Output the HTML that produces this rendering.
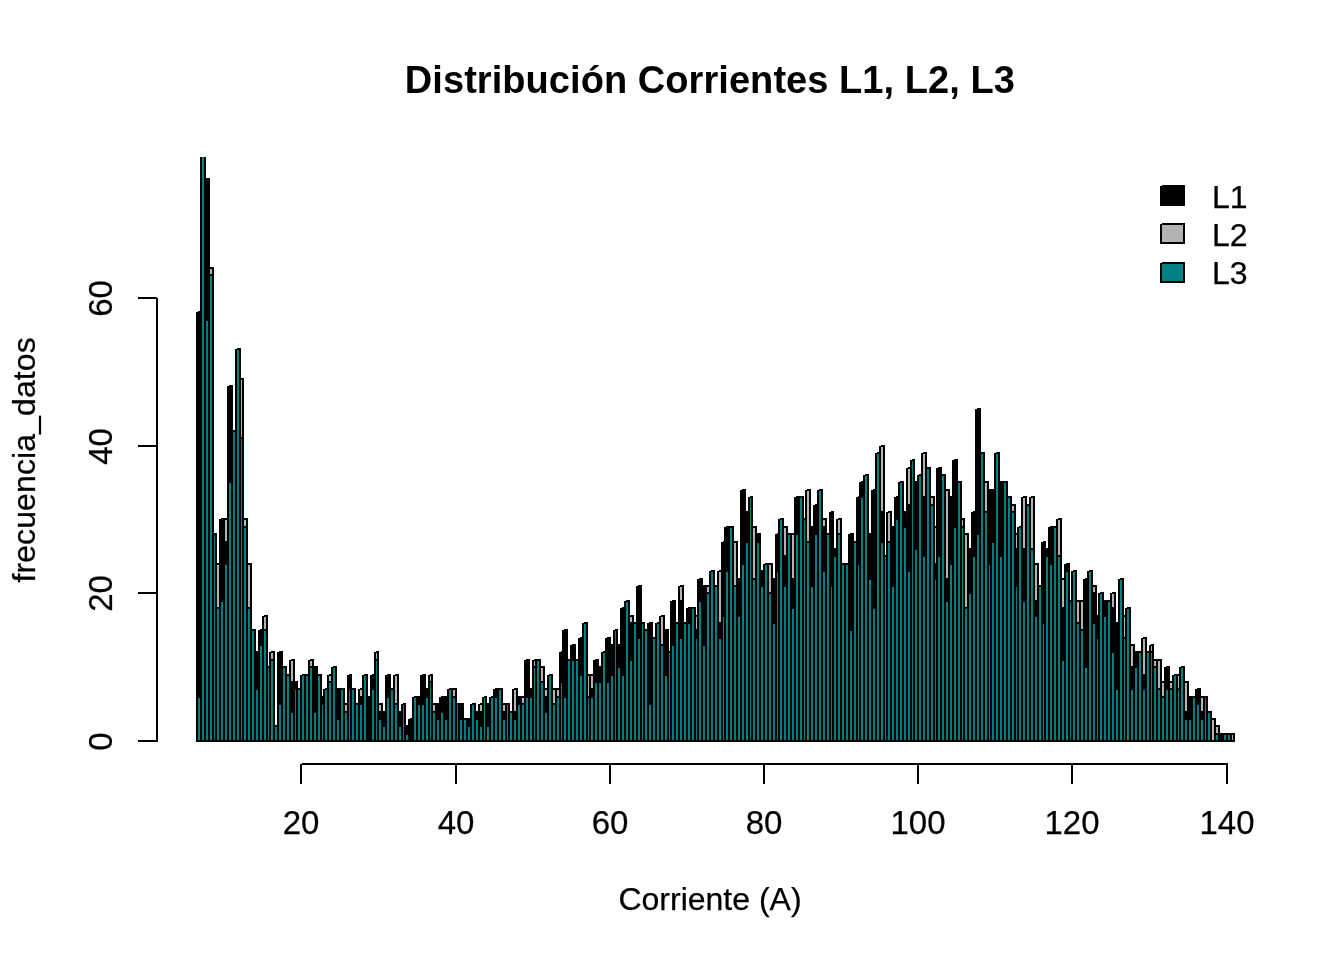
<!DOCTYPE html>
<html lang="es"><head><meta charset="utf-8"><title>Distribución Corrientes L1, L2, L3</title>
<style>html,body{margin:0;padding:0;background:#fff}body{width:1344px;height:960px;overflow:hidden}</style></head>
<body>
<svg width="1344" height="960" viewBox="0 0 1344 960" style="display:block">
<rect width="1344" height="960" fill="#fff"/>
<defs><clipPath id="pc"><rect x="157" y="157" width="1107" height="608"/></clipPath></defs>
<g shape-rendering="crispEdges">
<g clip-path="url(#pc)">
<rect x="196" y="740" width="1039" height="2" fill="#000"/>
<path fill="#b3b3b3" d="M209 268H213V741H209ZM216 564H220V741H216ZM224 519H228V741H224ZM240 379H243V741H240ZM243 519H247V741H243ZM247 564H251V741H247ZM263 616H267V741H263ZM270 652H274V741H270ZM290 660H294V741H290ZM309 660H313V741H309ZM328 675H332V741H328ZM344 704H348V741H344ZM359 689H363V741H359ZM375 652H378V741H375ZM378 704H382V741H378ZM394 675H398V741H394ZM429 675H432V741H429ZM432 704H436V741H432ZM452 689H456V741H452ZM479 704H483V741H479ZM502 704H506V741H502ZM513 689H517V741H513ZM521 697H525V741H521ZM533 660H536V741H533ZM540 667H544V741H540ZM544 689H548V741H544ZM552 689H556V741H552ZM556 689H560V741H556ZM587 675H590V741H587ZM590 675H594V741H590ZM629 616H633V741H629ZM660 616H664V741H660ZM679 586H683V741H679ZM695 616H698V741H695ZM706 586H710V741H706ZM718 571H722V741H718ZM733 542H737V741H733ZM752 527H756V741H752ZM768 564H772V741H768ZM783 527H787V741H783ZM791 534H795V741H791ZM806 490H810V741H806ZM822 519H826V741H822ZM837 519H841V741H837ZM880 446H884V741H880ZM887 512H891V741H887ZM907 468H911V741H907ZM922 453H926V741H922ZM930 497H934V741H930ZM934 527H937V741H934ZM945 490H949V741H945ZM961 519H964V741H961ZM964 534H968V741H964ZM984 482H988V741H984ZM1011 505H1015V741H1011ZM1015 534H1018V741H1015ZM1022 497H1026V741H1022ZM1030 497H1034V741H1030ZM1034 564H1038V741H1034ZM1057 519H1061V741H1057ZM1061 579H1065V741H1061ZM1076 601H1080V741H1076ZM1080 601H1084V741H1080ZM1092 586H1096V741H1092ZM1111 593H1115V741H1111ZM1123 616H1126V741H1123ZM1130 645H1134V741H1130ZM1142 638H1146V741H1142ZM1150 645H1153V741H1150ZM1153 660H1157V741H1153ZM1157 660H1161V741H1157ZM1161 682H1165V741H1161ZM1169 682H1173V741H1169ZM1177 675H1180V741H1177ZM1184 682H1188V741H1184ZM1200 697H1204V741H1200ZM1211 719H1215V741H1211ZM1215 726H1219V741H1215ZM1231 734H1234V741H1231Z"/>
<path fill="#000" d="M210 267H214V742H208V268H210ZM210 269V740H212V269ZM217 563H221V742H215V564H217ZM217 565V740H219V565ZM225 518H229V742H223V519H225ZM225 520V740H227V520ZM241 378H244V742H239V379H241ZM241 380V740H242V380ZM244 518H248V742H242V519H244ZM244 520V740H246V520ZM248 563H252V742H246V564H248ZM248 565V740H250V565ZM264 615H268V742H262V616H264ZM264 617V740H266V617ZM271 651H275V742H269V652H271ZM271 653V740H273V653ZM291 659H295V742H289V660H291ZM291 661V740H293V661ZM310 659H314V742H308V660H310ZM310 661V740H312V661ZM329 674H333V742H327V675H329ZM329 676V740H331V676ZM345 703H349V742H343V704H345ZM345 705V740H347V705ZM360 688H364V742H358V689H360ZM360 690V740H362V690ZM376 651H379V742H374V652H376ZM376 653V740H377V653ZM379 703H383V742H377V704H379ZM379 705V740H381V705ZM395 674H399V742H393V675H395ZM395 676V740H397V676ZM430 674H433V742H428V675H430ZM430 676V740H431V676ZM433 703H437V742H431V704H433ZM433 705V740H435V705ZM453 688H457V742H451V689H453ZM453 690V740H455V690ZM480 703H484V742H478V704H480ZM480 705V740H482V705ZM503 703H507V742H501V704H503ZM503 705V740H505V705ZM514 688H518V742H512V689H514ZM514 690V740H516V690ZM522 696H526V742H520V697H522ZM522 698V740H524V698ZM534 659H537V742H532V660H534ZM534 661V740H535V661ZM541 666H545V742H539V667H541ZM541 668V740H543V668ZM545 688H549V742H543V689H545ZM545 690V740H547V690ZM553 688H557V742H551V689H553ZM553 690V740H555V690ZM557 688H561V742H555V689H557ZM557 690V740H559V690ZM588 674H591V742H586V675H588ZM588 676V740H589V676ZM591 674H595V742H589V675H591ZM591 676V740H593V676ZM630 615H634V742H628V616H630ZM630 617V740H632V617ZM661 615H665V742H659V616H661ZM661 617V740H663V617ZM680 585H684V742H678V586H680ZM680 587V740H682V587ZM696 615H699V742H694V616H696ZM696 617V740H697V617ZM707 585H711V742H705V586H707ZM707 587V740H709V587ZM719 570H723V742H717V571H719ZM719 572V740H721V572ZM734 541H738V742H732V542H734ZM734 543V740H736V543ZM753 526H757V742H751V527H753ZM753 528V740H755V528ZM769 563H773V742H767V564H769ZM769 565V740H771V565ZM784 526H788V742H782V527H784ZM784 528V740H786V528ZM792 533H796V742H790V534H792ZM792 535V740H794V535ZM807 489H811V742H805V490H807ZM807 491V740H809V491ZM823 518H827V742H821V519H823ZM823 520V740H825V520ZM838 518H842V742H836V519H838ZM838 520V740H840V520ZM881 445H885V742H879V446H881ZM881 447V740H883V447ZM888 511H892V742H886V512H888ZM888 513V740H890V513ZM908 467H912V742H906V468H908ZM908 469V740H910V469ZM923 452H927V742H921V453H923ZM923 454V740H925V454ZM931 496H935V742H929V497H931ZM931 498V740H933V498ZM935 526H938V742H933V527H935ZM935 528V740H936V528ZM946 489H950V742H944V490H946ZM946 491V740H948V491ZM962 518H965V742H960V519H962ZM962 520V740H963V520ZM965 533H969V742H963V534H965ZM965 535V740H967V535ZM985 481H989V742H983V482H985ZM985 483V740H987V483ZM1012 504H1016V742H1010V505H1012ZM1012 506V740H1014V506ZM1016 533H1019V742H1014V534H1016ZM1016 535V740H1017V535ZM1023 496H1027V742H1021V497H1023ZM1023 498V740H1025V498ZM1031 496H1035V742H1029V497H1031ZM1031 498V740H1033V498ZM1035 563H1039V742H1033V564H1035ZM1035 565V740H1037V565ZM1058 518H1062V742H1056V519H1058ZM1058 520V740H1060V520ZM1062 578H1066V742H1060V579H1062ZM1062 580V740H1064V580ZM1077 600H1081V742H1075V601H1077ZM1077 602V740H1079V602ZM1081 600H1085V742H1079V601H1081ZM1081 602V740H1083V602ZM1093 585H1097V742H1091V586H1093ZM1093 587V740H1095V587ZM1112 592H1116V742H1110V593H1112ZM1112 594V740H1114V594ZM1124 615H1127V742H1122V616H1124ZM1124 617V740H1125V617ZM1131 644H1135V742H1129V645H1131ZM1131 646V740H1133V646ZM1143 637H1147V742H1141V638H1143ZM1143 639V740H1145V639ZM1151 644H1154V742H1149V645H1151ZM1151 646V740H1152V646ZM1154 659H1158V742H1152V660H1154ZM1154 661V740H1156V661ZM1158 659H1162V742H1156V660H1158ZM1158 661V740H1160V661ZM1162 681H1166V742H1160V682H1162ZM1162 683V740H1164V683ZM1170 681H1174V742H1168V682H1170ZM1170 683V740H1172V683ZM1178 674H1181V742H1176V675H1178ZM1178 676V740H1179V676ZM1185 681H1189V742H1183V682H1185ZM1185 683V740H1187V683ZM1201 696H1205V742H1199V697H1201ZM1201 698V740H1203V698ZM1212 718H1216V742H1210V719H1212ZM1212 720V740H1214V720ZM1216 725H1220V742H1214V726H1216ZM1216 727V740H1218V727ZM1232 733H1235V742H1230V734H1232ZM1232 735V740H1233V735Z"/>
<path fill="#000" d="M197 312H201V741H197ZM205 179H209V741H205ZM220 519H224V741H220ZM224 542H228V741H224ZM228 386H232V741H228ZM255 652H259V741H255ZM259 630H263V741H259ZM278 652H282V741H278ZM290 682H294V741H290ZM294 682H297V741H294ZM313 667H317V741H313ZM321 697H324V741H321ZM336 689H340V741H336ZM348 675H351V741H348ZM359 697H363V741H359ZM367 697H371V741H367ZM371 675H375V741H371ZM378 712H382V741H378ZM382 712H386V741H382ZM386 675H390V741H386ZM398 712H402V741H398ZM405 726H409V741H405ZM409 719H413V741H409ZM417 697H421V741H417ZM421 675H425V741H421ZM425 689H429V741H425ZM436 704H440V741H436ZM440 697H444V741H440ZM444 697H448V741H444ZM459 704H463V741H459ZM467 719H471V741H467ZM475 712H479V741H475ZM479 712H483V741H479ZM486 704H490V741H486ZM494 689H498V741H494ZM502 712H506V741H502ZM513 712H517V741H513ZM517 697H521V741H517ZM525 660H529V741H525ZM529 689H533V741H529ZM544 697H548V741H544ZM560 652H563V741H560ZM563 630H567V741H563ZM571 645H575V741H571ZM579 638H583V741H579ZM590 689H594V741H590ZM594 660H598V741H594ZM598 667H602V741H598ZM606 638H610V741H606ZM610 645H614V741H610ZM617 645H621V741H617ZM621 608H625V741H621ZM629 623H633V741H629ZM637 586H641V741H637ZM648 623H652V741H648ZM664 630H668V741H664ZM671 601H675V741H671ZM679 601H683V741H679ZM687 608H691V741H687ZM695 630H698V741H695ZM698 579H702V741H698ZM702 586H706V741H702ZM718 623H722V741H718ZM722 542H725V741H722ZM725 527H729V741H725ZM737 579H741V741H737ZM741 490H745V741H741ZM745 512H749V741H745ZM756 534H760V741H756ZM760 571H764V741H760ZM772 579H776V741H772ZM776 534H779V741H776ZM783 556H787V741H783ZM791 579H795V741H791ZM795 497H799V741H795ZM810 527H814V741H810ZM814 505H818V741H814ZM822 527H826V741H822ZM830 512H833V741H830ZM833 549H837V741H833ZM849 534H853V741H849ZM857 497H860V741H857ZM860 482H864V741H860ZM868 534H872V741H868ZM872 490H876V741H872ZM880 512H884V741H880ZM891 527H895V741H891ZM895 497H899V741H895ZM903 512H907V741H903ZM907 505H911V741H907ZM914 482H918V741H914ZM922 497H926V741H922ZM934 564H937V741H934ZM937 468H941V741H937ZM945 579H949V741H945ZM949 497H953V741H949ZM953 460H957V741H953ZM968 549H972V741H968ZM972 512H976V741H972ZM976 409H980V741H976ZM988 490H991V741H988ZM991 490H995V741H991ZM999 482H1003V741H999ZM1015 549H1018V741H1015ZM1022 549H1026V741H1022ZM1034 601H1038V741H1034ZM1042 542H1045V741H1042ZM1045 549H1049V741H1045ZM1049 527H1053V741H1049ZM1061 608H1065V741H1061ZM1065 564H1069V741H1065ZM1084 579H1088V741H1084ZM1092 593H1096V741H1092ZM1096 616H1099V741H1096ZM1103 601H1107V741H1103ZM1111 608H1115V741H1111ZM1115 623H1119V741H1115ZM1130 667H1134V741H1130ZM1134 652H1138V741H1134ZM1142 675H1146V741H1142ZM1165 667H1169V741H1165ZM1184 712H1188V741H1184ZM1188 697H1192V741H1188ZM1196 689H1200V741H1196ZM1200 712H1204V741H1200ZM1219 734H1223V741H1219Z"/>
<path fill="#000" d="M198 311H202V742H196V312H198ZM198 313V740H200V313ZM206 178H210V742H204V179H206ZM206 180V740H208V180ZM221 518H225V742H219V519H221ZM221 520V740H223V520ZM225 541H229V742H223V542H225ZM225 543V740H227V543ZM229 385H233V742H227V386H229ZM229 387V740H231V387ZM256 651H260V742H254V652H256ZM256 653V740H258V653ZM260 629H264V742H258V630H260ZM260 631V740H262V631ZM279 651H283V742H277V652H279ZM279 653V740H281V653ZM291 681H295V742H289V682H291ZM291 683V740H293V683ZM295 681H298V742H293V682H295ZM295 683V740H296V683ZM314 666H318V742H312V667H314ZM314 668V740H316V668ZM322 696H325V742H320V697H322ZM322 698V740H323V698ZM337 688H341V742H335V689H337ZM337 690V740H339V690ZM349 674H352V742H347V675H349ZM349 676V740H350V676ZM360 696H364V742H358V697H360ZM360 698V740H362V698ZM368 696H372V742H366V697H368ZM368 698V740H370V698ZM372 674H376V742H370V675H372ZM372 676V740H374V676ZM379 711H383V742H377V712H379ZM379 713V740H381V713ZM383 711H387V742H381V712H383ZM383 713V740H385V713ZM387 674H391V742H385V675H387ZM387 676V740H389V676ZM399 711H403V742H397V712H399ZM399 713V740H401V713ZM406 725H410V742H404V726H406ZM406 727V740H408V727ZM410 718H414V742H408V719H410ZM410 720V740H412V720ZM418 696H422V742H416V697H418ZM418 698V740H420V698ZM422 674H426V742H420V675H422ZM422 676V740H424V676ZM426 688H430V742H424V689H426ZM426 690V740H428V690ZM437 703H441V742H435V704H437ZM437 705V740H439V705ZM441 696H445V742H439V697H441ZM441 698V740H443V698ZM445 696H449V742H443V697H445ZM445 698V740H447V698ZM460 703H464V742H458V704H460ZM460 705V740H462V705ZM468 718H472V742H466V719H468ZM468 720V740H470V720ZM476 711H480V742H474V712H476ZM476 713V740H478V713ZM480 711H484V742H478V712H480ZM480 713V740H482V713ZM487 703H491V742H485V704H487ZM487 705V740H489V705ZM495 688H499V742H493V689H495ZM495 690V740H497V690ZM503 711H507V742H501V712H503ZM503 713V740H505V713ZM514 711H518V742H512V712H514ZM514 713V740H516V713ZM518 696H522V742H516V697H518ZM518 698V740H520V698ZM526 659H530V742H524V660H526ZM526 661V740H528V661ZM530 688H534V742H528V689H530ZM530 690V740H532V690ZM545 696H549V742H543V697H545ZM545 698V740H547V698ZM561 651H564V742H559V652H561ZM561 653V740H562V653ZM564 629H568V742H562V630H564ZM564 631V740H566V631ZM572 644H576V742H570V645H572ZM572 646V740H574V646ZM580 637H584V742H578V638H580ZM580 639V740H582V639ZM591 688H595V742H589V689H591ZM591 690V740H593V690ZM595 659H599V742H593V660H595ZM595 661V740H597V661ZM599 666H603V742H597V667H599ZM599 668V740H601V668ZM607 637H611V742H605V638H607ZM607 639V740H609V639ZM611 644H615V742H609V645H611ZM611 646V740H613V646ZM618 644H622V742H616V645H618ZM618 646V740H620V646ZM622 607H626V742H620V608H622ZM622 609V740H624V609ZM630 622H634V742H628V623H630ZM630 624V740H632V624ZM638 585H642V742H636V586H638ZM638 587V740H640V587ZM649 622H653V742H647V623H649ZM649 624V740H651V624ZM665 629H669V742H663V630H665ZM665 631V740H667V631ZM672 600H676V742H670V601H672ZM672 602V740H674V602ZM680 600H684V742H678V601H680ZM680 602V740H682V602ZM688 607H692V742H686V608H688ZM688 609V740H690V609ZM696 629H699V742H694V630H696ZM696 631V740H697V631ZM699 578H703V742H697V579H699ZM699 580V740H701V580ZM703 585H707V742H701V586H703ZM703 587V740H705V587ZM719 622H723V742H717V623H719ZM719 624V740H721V624ZM723 541H726V742H721V542H723ZM723 543V740H724V543ZM726 526H730V742H724V527H726ZM726 528V740H728V528ZM738 578H742V742H736V579H738ZM738 580V740H740V580ZM742 489H746V742H740V490H742ZM742 491V740H744V491ZM746 511H750V742H744V512H746ZM746 513V740H748V513ZM757 533H761V742H755V534H757ZM757 535V740H759V535ZM761 570H765V742H759V571H761ZM761 572V740H763V572ZM773 578H777V742H771V579H773ZM773 580V740H775V580ZM777 533H780V742H775V534H777ZM777 535V740H778V535ZM784 555H788V742H782V556H784ZM784 557V740H786V557ZM792 578H796V742H790V579H792ZM792 580V740H794V580ZM796 496H800V742H794V497H796ZM796 498V740H798V498ZM811 526H815V742H809V527H811ZM811 528V740H813V528ZM815 504H819V742H813V505H815ZM815 506V740H817V506ZM823 526H827V742H821V527H823ZM823 528V740H825V528ZM831 511H834V742H829V512H831ZM831 513V740H832V513ZM834 548H838V742H832V549H834ZM834 550V740H836V550ZM850 533H854V742H848V534H850ZM850 535V740H852V535ZM858 496H861V742H856V497H858ZM858 498V740H859V498ZM861 481H865V742H859V482H861ZM861 483V740H863V483ZM869 533H873V742H867V534H869ZM869 535V740H871V535ZM873 489H877V742H871V490H873ZM873 491V740H875V491ZM881 511H885V742H879V512H881ZM881 513V740H883V513ZM892 526H896V742H890V527H892ZM892 528V740H894V528ZM896 496H900V742H894V497H896ZM896 498V740H898V498ZM904 511H908V742H902V512H904ZM904 513V740H906V513ZM908 504H912V742H906V505H908ZM908 506V740H910V506ZM915 481H919V742H913V482H915ZM915 483V740H917V483ZM923 496H927V742H921V497H923ZM923 498V740H925V498ZM935 563H938V742H933V564H935ZM935 565V740H936V565ZM938 467H942V742H936V468H938ZM938 469V740H940V469ZM946 578H950V742H944V579H946ZM946 580V740H948V580ZM950 496H954V742H948V497H950ZM950 498V740H952V498ZM954 459H958V742H952V460H954ZM954 461V740H956V461ZM969 548H973V742H967V549H969ZM969 550V740H971V550ZM973 511H977V742H971V512H973ZM973 513V740H975V513ZM977 408H981V742H975V409H977ZM977 410V740H979V410ZM989 489H992V742H987V490H989ZM989 491V740H990V491ZM992 489H996V742H990V490H992ZM992 491V740H994V491ZM1000 481H1004V742H998V482H1000ZM1000 483V740H1002V483ZM1016 548H1019V742H1014V549H1016ZM1016 550V740H1017V550ZM1023 548H1027V742H1021V549H1023ZM1023 550V740H1025V550ZM1035 600H1039V742H1033V601H1035ZM1035 602V740H1037V602ZM1043 541H1046V742H1041V542H1043ZM1043 543V740H1044V543ZM1046 548H1050V742H1044V549H1046ZM1046 550V740H1048V550ZM1050 526H1054V742H1048V527H1050ZM1050 528V740H1052V528ZM1062 607H1066V742H1060V608H1062ZM1062 609V740H1064V609ZM1066 563H1070V742H1064V564H1066ZM1066 565V740H1068V565ZM1085 578H1089V742H1083V579H1085ZM1085 580V740H1087V580ZM1093 592H1097V742H1091V593H1093ZM1093 594V740H1095V594ZM1097 615H1100V742H1095V616H1097ZM1097 617V740H1098V617ZM1104 600H1108V742H1102V601H1104ZM1104 602V740H1106V602ZM1112 607H1116V742H1110V608H1112ZM1112 609V740H1114V609ZM1116 622H1120V742H1114V623H1116ZM1116 624V740H1118V624ZM1131 666H1135V742H1129V667H1131ZM1131 668V740H1133V668ZM1135 651H1139V742H1133V652H1135ZM1135 653V740H1137V653ZM1143 674H1147V742H1141V675H1143ZM1143 676V740H1145V676ZM1166 666H1170V742H1164V667H1166ZM1166 668V740H1168V668ZM1185 711H1189V742H1183V712H1185ZM1185 713V740H1187V713ZM1189 696H1193V742H1187V697H1189ZM1189 698V740H1191V698ZM1197 688H1201V742H1195V689H1197ZM1197 690V740H1199V690ZM1201 711H1205V742H1199V712H1201ZM1201 713V740H1203V713ZM1220 733H1224V742H1218V734H1220ZM1220 735V740H1222V735Z"/>
<path fill="#008080" d="M197 697H201V741H197ZM201 113H205V741H201ZM205 320H209V741H205ZM209 275H213V741H209ZM213 534H216V741H213ZM216 608H220V741H216ZM220 601H224V741H220ZM224 564H228V741H224ZM228 482H232V741H228ZM232 431H236V741H232ZM236 349H240V741H236ZM240 438H243V741H240ZM243 527H247V741H243ZM247 608H251V741H247ZM251 630H255V741H251ZM255 689H259V741H255ZM259 645H263V741H259ZM263 630H267V741H263ZM267 667H270V741H267ZM270 660H274V741H270ZM274 726H278V741H274ZM278 704H282V741H278ZM282 667H286V741H282ZM286 675H290V741H286ZM290 712H294V741H290ZM294 689H297V741H294ZM297 689H301V741H297ZM301 675H305V741H301ZM305 675H309V741H305ZM309 667H313V741H309ZM313 712H317V741H313ZM317 675H321V741H317ZM321 704H324V741H321ZM324 689H328V741H324ZM328 682H332V741H328ZM332 667H336V741H332ZM336 719H340V741H336ZM340 689H344V741H340ZM344 712H348V741H344ZM348 689H351V741H348ZM351 689H355V741H351ZM355 704H359V741H355ZM359 704H363V741H359ZM363 675H367V741H363ZM371 689H375V741H371ZM375 660H378V741H375ZM378 719H382V741H378ZM382 726H386V741H382ZM386 697H390V741H386ZM390 689H394V741H390ZM394 704H398V741H394ZM398 726H402V741H398ZM402 704H405V741H402ZM405 734H409V741H405ZM413 697H417V741H413ZM417 704H421V741H417ZM421 704H425V741H421ZM425 697H429V741H425ZM429 682H432V741H429ZM432 712H436V741H432ZM436 719H440V741H436ZM440 712H444V741H440ZM444 719H448V741H444ZM448 689H452V741H448ZM452 697H456V741H452ZM456 704H459V741H456ZM459 719H463V741H459ZM463 719H467V741H463ZM467 726H471V741H467ZM471 704H475V741H471ZM475 719H479V741H475ZM479 726H483V741H479ZM483 697H486V741H483ZM486 726H490V741H486ZM490 697H494V741H490ZM494 697H498V741H494ZM498 689H502V741H498ZM502 719H506V741H502ZM506 704H509V741H506ZM509 712H513V741H509ZM513 719H517V741H513ZM517 704H521V741H517ZM521 704H525V741H521ZM525 697H529V741H525ZM529 697H533V741H529ZM533 667H536V741H533ZM536 660H540V741H536ZM540 682H544V741H540ZM544 712H548V741H544ZM548 675H552V741H548ZM552 704H556V741H552ZM556 697H560V741H556ZM560 682H563V741H560ZM563 697H567V741H563ZM567 660H571V741H567ZM571 660H575V741H571ZM575 660H579V741H575ZM579 675H583V741H579ZM583 623H587V741H583ZM587 697H590V741H587ZM590 697H594V741H590ZM594 682H598V741H594ZM598 682H602V741H598ZM602 652H606V741H602ZM606 682H610V741H606ZM610 675H614V741H610ZM614 630H617V741H614ZM617 667H621V741H617ZM621 675H625V741H621ZM625 601H629V741H625ZM629 660H633V741H629ZM633 623H637V741H633ZM637 638H641V741H637ZM641 623H644V741H641ZM644 630H648V741H644ZM648 704H652V741H648ZM652 638H656V741H652ZM656 623H660V741H656ZM660 645H664V741H660ZM664 675H668V741H664ZM668 652H671V741H668ZM671 645H675V741H671ZM675 623H679V741H675ZM679 638H683V741H679ZM683 623H687V741H683ZM687 623H691V741H687ZM691 608H695V741H691ZM695 638H698V741H695ZM698 601H702V741H698ZM702 645H706V741H702ZM706 593H710V741H706ZM710 571H714V741H710ZM714 586H718V741H714ZM718 638H722V741H718ZM722 616H725V741H722ZM725 571H729V741H725ZM729 527H733V741H729ZM733 586H737V741H733ZM737 616H741V741H737ZM741 564H745V741H741ZM745 542H749V741H745ZM749 497H752V741H749ZM752 579H756V741H752ZM756 542H760V741H756ZM760 586H764V741H760ZM764 564H768V741H764ZM768 593H772V741H768ZM772 623H776V741H772ZM776 571H779V741H776ZM779 519H783V741H779ZM783 586H787V741H783ZM787 534H791V741H787ZM791 608H795V741H791ZM795 534H799V741H795ZM799 497H803V741H799ZM803 519H806V741H803ZM806 542H810V741H806ZM810 586H814V741H810ZM814 534H818V741H814ZM818 490H822V741H818ZM822 571H826V741H822ZM826 534H830V741H826ZM830 586H833V741H830ZM833 556H837V741H833ZM837 534H841V741H837ZM841 564H845V741H841ZM845 564H849V741H845ZM849 630H853V741H849ZM853 542H857V741H853ZM857 564H860V741H857ZM860 497H864V741H860ZM864 475H868V741H864ZM868 579H872V741H868ZM872 608H876V741H872ZM876 453H880V741H876ZM880 542H884V741H880ZM884 556H887V741H884ZM887 542H891V741H887ZM891 586H895V741H891ZM895 519H899V741H895ZM899 482H903V741H899ZM903 527H907V741H903ZM907 571H911V741H907ZM911 460H914V741H911ZM914 549H918V741H914ZM918 475H922V741H918ZM922 556H926V741H922ZM926 468H930V741H926ZM930 505H934V741H930ZM934 579H937V741H934ZM937 556H941V741H937ZM941 475H945V741H941ZM945 601H949V741H945ZM949 564H953V741H949ZM953 527H957V741H953ZM957 482H961V741H957ZM961 527H964V741H961ZM964 608H968V741H964ZM968 593H972V741H968ZM972 556H976V741H972ZM976 534H980V741H976ZM980 453H984V741H980ZM984 512H988V741H984ZM988 564H991V741H988ZM991 542H995V741H991ZM995 453H999V741H995ZM999 556H1003V741H999ZM1003 482H1007V741H1003ZM1007 497H1011V741H1007ZM1011 512H1015V741H1011ZM1015 586H1018V741H1015ZM1018 527H1022V741H1018ZM1022 601H1026V741H1022ZM1026 505H1030V741H1026ZM1030 549H1034V741H1030ZM1034 616H1038V741H1034ZM1038 586H1042V741H1038ZM1042 623H1045V741H1042ZM1045 556H1049V741H1045ZM1049 564H1053V741H1049ZM1053 527H1057V741H1053ZM1057 556H1061V741H1057ZM1061 660H1065V741H1061ZM1065 571H1069V741H1065ZM1069 601H1072V741H1069ZM1072 571H1076V741H1072ZM1076 623H1080V741H1076ZM1080 630H1084V741H1080ZM1084 667H1088V741H1084ZM1088 571H1092V741H1088ZM1092 623H1096V741H1092ZM1096 638H1099V741H1096ZM1099 593H1103V741H1099ZM1103 616H1107V741H1103ZM1107 601H1111V741H1107ZM1111 652H1115V741H1111ZM1115 689H1119V741H1115ZM1119 579H1123V741H1119ZM1123 638H1126V741H1123ZM1126 608H1130V741H1126ZM1130 689H1134V741H1130ZM1134 667H1138V741H1134ZM1138 652H1142V741H1138ZM1142 689H1146V741H1142ZM1146 652H1150V741H1146ZM1150 652H1153V741H1150ZM1153 667H1157V741H1153ZM1157 689H1161V741H1157ZM1161 697H1165V741H1161ZM1165 689H1169V741H1165ZM1169 689H1173V741H1169ZM1173 675H1177V741H1173ZM1177 689H1180V741H1177ZM1180 667H1184V741H1180ZM1184 719H1188V741H1184ZM1188 719H1192V741H1188ZM1192 697H1196V741H1192ZM1196 704H1200V741H1196ZM1200 719H1204V741H1200ZM1204 697H1207V741H1204ZM1207 712H1211V741H1207ZM1215 734H1219V741H1215ZM1223 734H1227V741H1223ZM1227 734H1231V741H1227Z"/>
<path fill="#000" d="M198 696H202V742H196V697H198ZM198 698V740H200V698ZM202 112H206V742H200V113H202ZM202 114V740H204V114ZM206 319H210V742H204V320H206ZM206 321V740H208V321ZM210 274H214V742H208V275H210ZM210 276V740H212V276ZM214 533H217V742H212V534H214ZM214 535V740H215V535ZM217 607H221V742H215V608H217ZM217 609V740H219V609ZM221 600H225V742H219V601H221ZM221 602V740H223V602ZM225 563H229V742H223V564H225ZM225 565V740H227V565ZM229 481H233V742H227V482H229ZM229 483V740H231V483ZM233 430H237V742H231V431H233ZM233 432V740H235V432ZM237 348H241V742H235V349H237ZM237 350V740H239V350ZM241 437H244V742H239V438H241ZM241 439V740H242V439ZM244 526H248V742H242V527H244ZM244 528V740H246V528ZM248 607H252V742H246V608H248ZM248 609V740H250V609ZM252 629H256V742H250V630H252ZM252 631V740H254V631ZM256 688H260V742H254V689H256ZM256 690V740H258V690ZM260 644H264V742H258V645H260ZM260 646V740H262V646ZM264 629H268V742H262V630H264ZM264 631V740H266V631ZM268 666H271V742H266V667H268ZM268 668V740H269V668ZM271 659H275V742H269V660H271ZM271 661V740H273V661ZM275 725H279V742H273V726H275ZM275 727V740H277V727ZM279 703H283V742H277V704H279ZM279 705V740H281V705ZM283 666H287V742H281V667H283ZM283 668V740H285V668ZM287 674H291V742H285V675H287ZM287 676V740H289V676ZM291 711H295V742H289V712H291ZM291 713V740H293V713ZM295 688H298V742H293V689H295ZM295 690V740H296V690ZM298 688H302V742H296V689H298ZM298 690V740H300V690ZM302 674H306V742H300V675H302ZM302 676V740H304V676ZM306 674H310V742H304V675H306ZM306 676V740H308V676ZM310 666H314V742H308V667H310ZM310 668V740H312V668ZM314 711H318V742H312V712H314ZM314 713V740H316V713ZM318 674H322V742H316V675H318ZM318 676V740H320V676ZM322 703H325V742H320V704H322ZM322 705V740H323V705ZM325 688H329V742H323V689H325ZM325 690V740H327V690ZM329 681H333V742H327V682H329ZM329 683V740H331V683ZM333 666H337V742H331V667H333ZM333 668V740H335V668ZM337 718H341V742H335V719H337ZM337 720V740H339V720ZM341 688H345V742H339V689H341ZM341 690V740H343V690ZM345 711H349V742H343V712H345ZM345 713V740H347V713ZM349 688H352V742H347V689H349ZM349 690V740H350V690ZM352 688H356V742H350V689H352ZM352 690V740H354V690ZM356 703H360V742H354V704H356ZM356 705V740H358V705ZM360 703H364V742H358V704H360ZM360 705V740H362V705ZM364 674H368V742H362V675H364ZM364 676V740H366V676ZM372 688H376V742H370V689H372ZM372 690V740H374V690ZM376 659H379V742H374V660H376ZM376 661V740H377V661ZM379 718H383V742H377V719H379ZM379 720V740H381V720ZM383 725H387V742H381V726H383ZM383 727V740H385V727ZM387 696H391V742H385V697H387ZM387 698V740H389V698ZM391 688H395V742H389V689H391ZM391 690V740H393V690ZM395 703H399V742H393V704H395ZM395 705V740H397V705ZM399 725H403V742H397V726H399ZM399 727V740H401V727ZM403 703H406V742H401V704H403ZM403 705V740H404V705ZM406 733H410V742H404V734H406ZM406 735V740H408V735ZM414 696H418V742H412V697H414ZM414 698V740H416V698ZM418 703H422V742H416V704H418ZM418 705V740H420V705ZM422 703H426V742H420V704H422ZM422 705V740H424V705ZM426 696H430V742H424V697H426ZM426 698V740H428V698ZM430 681H433V742H428V682H430ZM430 683V740H431V683ZM433 711H437V742H431V712H433ZM433 713V740H435V713ZM437 718H441V742H435V719H437ZM437 720V740H439V720ZM441 711H445V742H439V712H441ZM441 713V740H443V713ZM445 718H449V742H443V719H445ZM445 720V740H447V720ZM449 688H453V742H447V689H449ZM449 690V740H451V690ZM453 696H457V742H451V697H453ZM453 698V740H455V698ZM457 703H460V742H455V704H457ZM457 705V740H458V705ZM460 718H464V742H458V719H460ZM460 720V740H462V720ZM464 718H468V742H462V719H464ZM464 720V740H466V720ZM468 725H472V742H466V726H468ZM468 727V740H470V727ZM472 703H476V742H470V704H472ZM472 705V740H474V705ZM476 718H480V742H474V719H476ZM476 720V740H478V720ZM480 725H484V742H478V726H480ZM480 727V740H482V727ZM484 696H487V742H482V697H484ZM484 698V740H485V698ZM487 725H491V742H485V726H487ZM487 727V740H489V727ZM491 696H495V742H489V697H491ZM491 698V740H493V698ZM495 696H499V742H493V697H495ZM495 698V740H497V698ZM499 688H503V742H497V689H499ZM499 690V740H501V690ZM503 718H507V742H501V719H503ZM503 720V740H505V720ZM507 703H510V742H505V704H507ZM507 705V740H508V705ZM510 711H514V742H508V712H510ZM510 713V740H512V713ZM514 718H518V742H512V719H514ZM514 720V740H516V720ZM518 703H522V742H516V704H518ZM518 705V740H520V705ZM522 703H526V742H520V704H522ZM522 705V740H524V705ZM526 696H530V742H524V697H526ZM526 698V740H528V698ZM530 696H534V742H528V697H530ZM530 698V740H532V698ZM534 666H537V742H532V667H534ZM534 668V740H535V668ZM537 659H541V742H535V660H537ZM537 661V740H539V661ZM541 681H545V742H539V682H541ZM541 683V740H543V683ZM545 711H549V742H543V712H545ZM545 713V740H547V713ZM549 674H553V742H547V675H549ZM549 676V740H551V676ZM553 703H557V742H551V704H553ZM553 705V740H555V705ZM557 696H561V742H555V697H557ZM557 698V740H559V698ZM561 681H564V742H559V682H561ZM561 683V740H562V683ZM564 696H568V742H562V697H564ZM564 698V740H566V698ZM568 659H572V742H566V660H568ZM568 661V740H570V661ZM572 659H576V742H570V660H572ZM572 661V740H574V661ZM576 659H580V742H574V660H576ZM576 661V740H578V661ZM580 674H584V742H578V675H580ZM580 676V740H582V676ZM584 622H588V742H582V623H584ZM584 624V740H586V624ZM588 696H591V742H586V697H588ZM588 698V740H589V698ZM591 696H595V742H589V697H591ZM591 698V740H593V698ZM595 681H599V742H593V682H595ZM595 683V740H597V683ZM599 681H603V742H597V682H599ZM599 683V740H601V683ZM603 651H607V742H601V652H603ZM603 653V740H605V653ZM607 681H611V742H605V682H607ZM607 683V740H609V683ZM611 674H615V742H609V675H611ZM611 676V740H613V676ZM615 629H618V742H613V630H615ZM615 631V740H616V631ZM618 666H622V742H616V667H618ZM618 668V740H620V668ZM622 674H626V742H620V675H622ZM622 676V740H624V676ZM626 600H630V742H624V601H626ZM626 602V740H628V602ZM630 659H634V742H628V660H630ZM630 661V740H632V661ZM634 622H638V742H632V623H634ZM634 624V740H636V624ZM638 637H642V742H636V638H638ZM638 639V740H640V639ZM642 622H645V742H640V623H642ZM642 624V740H643V624ZM645 629H649V742H643V630H645ZM645 631V740H647V631ZM649 703H653V742H647V704H649ZM649 705V740H651V705ZM653 637H657V742H651V638H653ZM653 639V740H655V639ZM657 622H661V742H655V623H657ZM657 624V740H659V624ZM661 644H665V742H659V645H661ZM661 646V740H663V646ZM665 674H669V742H663V675H665ZM665 676V740H667V676ZM669 651H672V742H667V652H669ZM669 653V740H670V653ZM672 644H676V742H670V645H672ZM672 646V740H674V646ZM676 622H680V742H674V623H676ZM676 624V740H678V624ZM680 637H684V742H678V638H680ZM680 639V740H682V639ZM684 622H688V742H682V623H684ZM684 624V740H686V624ZM688 622H692V742H686V623H688ZM688 624V740H690V624ZM692 607H696V742H690V608H692ZM692 609V740H694V609ZM696 637H699V742H694V638H696ZM696 639V740H697V639ZM699 600H703V742H697V601H699ZM699 602V740H701V602ZM703 644H707V742H701V645H703ZM703 646V740H705V646ZM707 592H711V742H705V593H707ZM707 594V740H709V594ZM711 570H715V742H709V571H711ZM711 572V740H713V572ZM715 585H719V742H713V586H715ZM715 587V740H717V587ZM719 637H723V742H717V638H719ZM719 639V740H721V639ZM723 615H726V742H721V616H723ZM723 617V740H724V617ZM726 570H730V742H724V571H726ZM726 572V740H728V572ZM730 526H734V742H728V527H730ZM730 528V740H732V528ZM734 585H738V742H732V586H734ZM734 587V740H736V587ZM738 615H742V742H736V616H738ZM738 617V740H740V617ZM742 563H746V742H740V564H742ZM742 565V740H744V565ZM746 541H750V742H744V542H746ZM746 543V740H748V543ZM750 496H753V742H748V497H750ZM750 498V740H751V498ZM753 578H757V742H751V579H753ZM753 580V740H755V580ZM757 541H761V742H755V542H757ZM757 543V740H759V543ZM761 585H765V742H759V586H761ZM761 587V740H763V587ZM765 563H769V742H763V564H765ZM765 565V740H767V565ZM769 592H773V742H767V593H769ZM769 594V740H771V594ZM773 622H777V742H771V623H773ZM773 624V740H775V624ZM777 570H780V742H775V571H777ZM777 572V740H778V572ZM780 518H784V742H778V519H780ZM780 520V740H782V520ZM784 585H788V742H782V586H784ZM784 587V740H786V587ZM788 533H792V742H786V534H788ZM788 535V740H790V535ZM792 607H796V742H790V608H792ZM792 609V740H794V609ZM796 533H800V742H794V534H796ZM796 535V740H798V535ZM800 496H804V742H798V497H800ZM800 498V740H802V498ZM804 518H807V742H802V519H804ZM804 520V740H805V520ZM807 541H811V742H805V542H807ZM807 543V740H809V543ZM811 585H815V742H809V586H811ZM811 587V740H813V587ZM815 533H819V742H813V534H815ZM815 535V740H817V535ZM819 489H823V742H817V490H819ZM819 491V740H821V491ZM823 570H827V742H821V571H823ZM823 572V740H825V572ZM827 533H831V742H825V534H827ZM827 535V740H829V535ZM831 585H834V742H829V586H831ZM831 587V740H832V587ZM834 555H838V742H832V556H834ZM834 557V740H836V557ZM838 533H842V742H836V534H838ZM838 535V740H840V535ZM842 563H846V742H840V564H842ZM842 565V740H844V565ZM846 563H850V742H844V564H846ZM846 565V740H848V565ZM850 629H854V742H848V630H850ZM850 631V740H852V631ZM854 541H858V742H852V542H854ZM854 543V740H856V543ZM858 563H861V742H856V564H858ZM858 565V740H859V565ZM861 496H865V742H859V497H861ZM861 498V740H863V498ZM865 474H869V742H863V475H865ZM865 476V740H867V476ZM869 578H873V742H867V579H869ZM869 580V740H871V580ZM873 607H877V742H871V608H873ZM873 609V740H875V609ZM877 452H881V742H875V453H877ZM877 454V740H879V454ZM881 541H885V742H879V542H881ZM881 543V740H883V543ZM885 555H888V742H883V556H885ZM885 557V740H886V557ZM888 541H892V742H886V542H888ZM888 543V740H890V543ZM892 585H896V742H890V586H892ZM892 587V740H894V587ZM896 518H900V742H894V519H896ZM896 520V740H898V520ZM900 481H904V742H898V482H900ZM900 483V740H902V483ZM904 526H908V742H902V527H904ZM904 528V740H906V528ZM908 570H912V742H906V571H908ZM908 572V740H910V572ZM912 459H915V742H910V460H912ZM912 461V740H913V461ZM915 548H919V742H913V549H915ZM915 550V740H917V550ZM919 474H923V742H917V475H919ZM919 476V740H921V476ZM923 555H927V742H921V556H923ZM923 557V740H925V557ZM927 467H931V742H925V468H927ZM927 469V740H929V469ZM931 504H935V742H929V505H931ZM931 506V740H933V506ZM935 578H938V742H933V579H935ZM935 580V740H936V580ZM938 555H942V742H936V556H938ZM938 557V740H940V557ZM942 474H946V742H940V475H942ZM942 476V740H944V476ZM946 600H950V742H944V601H946ZM946 602V740H948V602ZM950 563H954V742H948V564H950ZM950 565V740H952V565ZM954 526H958V742H952V527H954ZM954 528V740H956V528ZM958 481H962V742H956V482H958ZM958 483V740H960V483ZM962 526H965V742H960V527H962ZM962 528V740H963V528ZM965 607H969V742H963V608H965ZM965 609V740H967V609ZM969 592H973V742H967V593H969ZM969 594V740H971V594ZM973 555H977V742H971V556H973ZM973 557V740H975V557ZM977 533H981V742H975V534H977ZM977 535V740H979V535ZM981 452H985V742H979V453H981ZM981 454V740H983V454ZM985 511H989V742H983V512H985ZM985 513V740H987V513ZM989 563H992V742H987V564H989ZM989 565V740H990V565ZM992 541H996V742H990V542H992ZM992 543V740H994V543ZM996 452H1000V742H994V453H996ZM996 454V740H998V454ZM1000 555H1004V742H998V556H1000ZM1000 557V740H1002V557ZM1004 481H1008V742H1002V482H1004ZM1004 483V740H1006V483ZM1008 496H1012V742H1006V497H1008ZM1008 498V740H1010V498ZM1012 511H1016V742H1010V512H1012ZM1012 513V740H1014V513ZM1016 585H1019V742H1014V586H1016ZM1016 587V740H1017V587ZM1019 526H1023V742H1017V527H1019ZM1019 528V740H1021V528ZM1023 600H1027V742H1021V601H1023ZM1023 602V740H1025V602ZM1027 504H1031V742H1025V505H1027ZM1027 506V740H1029V506ZM1031 548H1035V742H1029V549H1031ZM1031 550V740H1033V550ZM1035 615H1039V742H1033V616H1035ZM1035 617V740H1037V617ZM1039 585H1043V742H1037V586H1039ZM1039 587V740H1041V587ZM1043 622H1046V742H1041V623H1043ZM1043 624V740H1044V624ZM1046 555H1050V742H1044V556H1046ZM1046 557V740H1048V557ZM1050 563H1054V742H1048V564H1050ZM1050 565V740H1052V565ZM1054 526H1058V742H1052V527H1054ZM1054 528V740H1056V528ZM1058 555H1062V742H1056V556H1058ZM1058 557V740H1060V557ZM1062 659H1066V742H1060V660H1062ZM1062 661V740H1064V661ZM1066 570H1070V742H1064V571H1066ZM1066 572V740H1068V572ZM1070 600H1073V742H1068V601H1070ZM1070 602V740H1071V602ZM1073 570H1077V742H1071V571H1073ZM1073 572V740H1075V572ZM1077 622H1081V742H1075V623H1077ZM1077 624V740H1079V624ZM1081 629H1085V742H1079V630H1081ZM1081 631V740H1083V631ZM1085 666H1089V742H1083V667H1085ZM1085 668V740H1087V668ZM1089 570H1093V742H1087V571H1089ZM1089 572V740H1091V572ZM1093 622H1097V742H1091V623H1093ZM1093 624V740H1095V624ZM1097 637H1100V742H1095V638H1097ZM1097 639V740H1098V639ZM1100 592H1104V742H1098V593H1100ZM1100 594V740H1102V594ZM1104 615H1108V742H1102V616H1104ZM1104 617V740H1106V617ZM1108 600H1112V742H1106V601H1108ZM1108 602V740H1110V602ZM1112 651H1116V742H1110V652H1112ZM1112 653V740H1114V653ZM1116 688H1120V742H1114V689H1116ZM1116 690V740H1118V690ZM1120 578H1124V742H1118V579H1120ZM1120 580V740H1122V580ZM1124 637H1127V742H1122V638H1124ZM1124 639V740H1125V639ZM1127 607H1131V742H1125V608H1127ZM1127 609V740H1129V609ZM1131 688H1135V742H1129V689H1131ZM1131 690V740H1133V690ZM1135 666H1139V742H1133V667H1135ZM1135 668V740H1137V668ZM1139 651H1143V742H1137V652H1139ZM1139 653V740H1141V653ZM1143 688H1147V742H1141V689H1143ZM1143 690V740H1145V690ZM1147 651H1151V742H1145V652H1147ZM1147 653V740H1149V653ZM1151 651H1154V742H1149V652H1151ZM1151 653V740H1152V653ZM1154 666H1158V742H1152V667H1154ZM1154 668V740H1156V668ZM1158 688H1162V742H1156V689H1158ZM1158 690V740H1160V690ZM1162 696H1166V742H1160V697H1162ZM1162 698V740H1164V698ZM1166 688H1170V742H1164V689H1166ZM1166 690V740H1168V690ZM1170 688H1174V742H1168V689H1170ZM1170 690V740H1172V690ZM1174 674H1178V742H1172V675H1174ZM1174 676V740H1176V676ZM1178 688H1181V742H1176V689H1178ZM1178 690V740H1179V690ZM1181 666H1185V742H1179V667H1181ZM1181 668V740H1183V668ZM1185 718H1189V742H1183V719H1185ZM1185 720V740H1187V720ZM1189 718H1193V742H1187V719H1189ZM1189 720V740H1191V720ZM1193 696H1197V742H1191V697H1193ZM1193 698V740H1195V698ZM1197 703H1201V742H1195V704H1197ZM1197 705V740H1199V705ZM1201 718H1205V742H1199V719H1201ZM1201 720V740H1203V720ZM1205 696H1208V742H1203V697H1205ZM1205 698V740H1206V698ZM1208 711H1212V742H1206V712H1208ZM1208 713V740H1210V713ZM1216 733H1220V742H1214V734H1216ZM1216 735V740H1218V735ZM1224 733H1228V742H1222V734H1224ZM1224 735V740H1226V735ZM1228 733H1232V742H1226V734H1228ZM1228 735V740H1230V735Z"/>
</g>
<path d="M302 763h926v2h-926zM300 764h2v20h-2zM455 764h2v20h-2zM609 764h2v20h-2zM763 764h2v20h-2zM917 764h2v20h-2zM1071 764h2v20h-2zM1226 764h2v20h-2zM156 298h2v444h-2zM138 740h20v2h-20zM138 592h20v2h-20zM138 445h20v2h-20zM138 297h19v1h-19zM138 298h20v1h-20z" fill="#000"/>
<path fill="#000" d="M1161 186H1184V205H1161Z"/><path fill="#000" d="M1162 185H1185V206H1160V186H1162ZM1162 187V204H1183V187Z"/>
<path fill="#b3b3b3" d="M1161 224H1184V243H1161Z"/><path fill="#000" d="M1162 223H1185V244H1160V224H1162ZM1162 225V242H1183V225Z"/>
<path fill="#008080" d="M1161 263H1184V282H1161Z"/><path fill="#000" d="M1162 262H1185V283H1160V263H1162ZM1162 264V281H1183V264Z"/>
</g>
<g style="font-family:'Liberation Sans',Arial,sans-serif;font-size:33px" fill="#000" stroke="#000" stroke-width="0.25">
<text x="301" y="834" text-anchor="middle">20</text>
<text x="456" y="834" text-anchor="middle">40</text>
<text x="610" y="834" text-anchor="middle">60</text>
<text x="764" y="834" text-anchor="middle">80</text>
<text x="918" y="834" text-anchor="middle">100</text>
<text x="1072" y="834" text-anchor="middle">120</text>
<text x="1227" y="834" text-anchor="middle">140</text>
<text transform="translate(111.5 741.5) rotate(-90)" text-anchor="middle">0</text>
<text transform="translate(111.5 593.5) rotate(-90)" text-anchor="middle">20</text>
<text transform="translate(111.5 446.5) rotate(-90)" text-anchor="middle">40</text>
<text transform="translate(111.5 298.5) rotate(-90)" text-anchor="middle">60</text>
</g>
<g style="font-family:'Liberation Sans',Arial,sans-serif;font-size:32px" fill="#000" stroke="#000" stroke-width="0.25">
<text x="710" y="910.4" text-anchor="middle">Corriente (A)</text>
<text transform="translate(35 459.9) rotate(-90)" text-anchor="middle" style="letter-spacing:0.1px">frecuencia_datos</text>
<text x="1212" y="207.6">L1</text>
<text x="1212" y="246.0">L2</text>
<text x="1212" y="284.4">L3</text>
</g>
<text x="709.9" y="92.8" text-anchor="middle" style="font-family:'Liberation Sans',Arial,sans-serif;font-size:38px;font-weight:bold;letter-spacing:0.06px" fill="#000">Distribución Corrientes L1, L2, L3</text>
</svg>
</body></html>
